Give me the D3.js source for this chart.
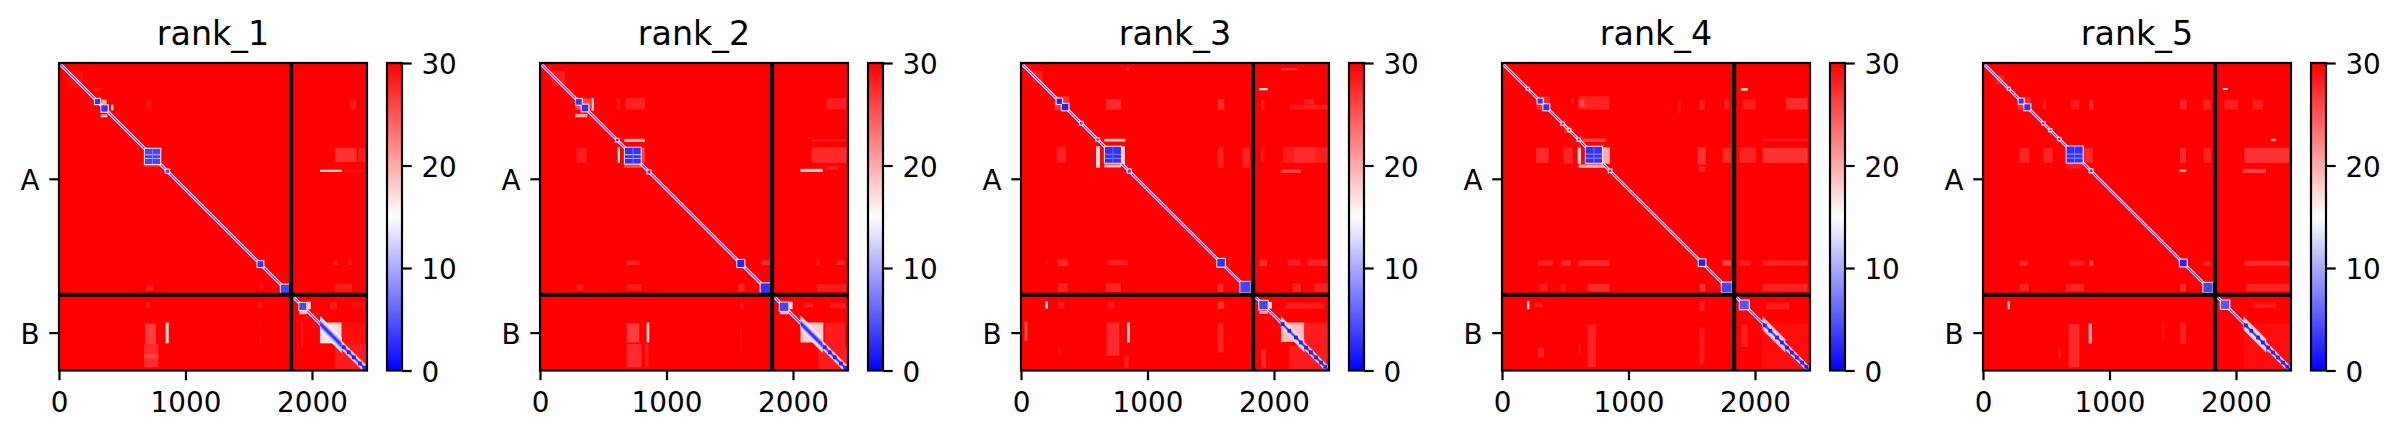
<!DOCTYPE html>
<html><head><meta charset="utf-8">
<script src="https://cdn.jsdelivr.net/npm/d3@7/dist/d3.min.js"></script>
<style>html,body{margin:0;padding:0;background:#fff}svg{display:block}text{font-family:"DejaVu Sans",sans-serif;fill:#000}</style>
</head><body><svg id="c" width="2401" height="438"></svg>
<script>
const rankNames = ["rank_1","rank_2","rank_3","rank_4","rank_5"];
const chainLabels = ["A","B"];
const chainCentres = [917,2135];
const chainBreak = 1835;
const residueCount = 2435;
const xTicks = [0,1000,2000];
const cbarTicks = [0,10,20,30];

// Diagonal domains [start,end,value]
const blocks1 = [[285,325,3],[335,385,3],[680,800,4],[845,870,4],[1570,1615,3],[1755,1830,4],[1900,1955,4]];
const blocks2 = [[285,330,3],[330,382,3],[672,796,3],[601,621,4],[850,874,4],[1560,1615,2],[1745,1825,3],[1897,1963,4]];
const blocks3 = [[282,324,2],[324,374,2],[467,487,4],[597,615,4],[664,790,3],[844,868,4],[1552,1612,3],[1734,1815,4],[1884,1950,4]];
const blocks4 = [[282,321,3],[327,374,3],[196,211,4],[471,489,4],[525,540,5],[597,615,4],[664,790,3],[844,864,4],[1555,1607,2],[1739,1815,4],[1881,1950,5]];
const blocks5 = [[282,321,3],[327,374,3],[196,211,4],[468,486,4],[525,540,5],[594,612,4],[661,788,3],[843,865,4],[1557,1610,2],[1742,1815,4],[1881,1947,5]];

// Beads strung along chain B's tail, no halo [start,end,value]
const beads1 = [[2236,2266,2],[2276,2306,2],[2316,2346,2],[2364,2394,2],[2398,2428,2]];
const beads2 = [[2236,2266,2],[2276,2306,2],[2316,2346,2],[2364,2394,2],[2398,2428,2]];
const beads3 = [[2053,2083,2],[2106,2136,2],[2159,2189,2],[2198,2228,2],[2238,2268,2],[2277,2307,2],[2317,2347,2],[2357,2387,2],[2391,2421,2]];
const beads4 = [[2063,2093,2],[2106,2136,2],[2159,2189,2],[2198,2228,2],[2238,2268,2],[2277,2307,2],[2317,2347,2],[2357,2387,2],[2391,2421,2]];
const beads5 = [[2063,2093,2],[2106,2136,2],[2159,2189,2],[2198,2228,2],[2238,2268,2],[2277,2307,2],[2317,2347,2],[2357,2387,2],[2391,2421,2]];

// Diagonal bands [start,end,half-width,value]
const bands1 = [[0,2435,18,17],[0,2435,7,6],[2065,2235,62,16],[2065,2235,42,12],[2065,2235,26,8],[2065,2235,14,3],[2235,2435,36,18],[2235,2435,12,4]];
const bands2 = [[0,2435,18,17],[0,2435,7,6],[2060,2235,60,17],[2060,2235,36,12],[2060,2235,24,8],[2060,2235,14,3],[2235,2435,36,18],[2235,2435,12,4]];
const bands3 = [[0,2435,17,17],[0,2435,6,5],[2055,2240,50,18],[2055,2240,26,13],[2240,2435,30,18],[2055,2435,12,4]];
const bands4 = [[0,2435,17,17],[0,2435,6,5],[2060,2240,54,19],[2060,2240,26,13],[2240,2435,30,18],[2060,2435,12,4]];
const bands5 = [[0,2435,17,17],[0,2435,6,5],[2060,2240,54,18],[2060,2240,26,13],[2240,2435,30,18],[2060,2435,12,4]];

// Off-diagonal patches [x0,x1,y0,y1,value]
const patches1 = [[75,190,65,200,28],[270,325,200,225,27],[337,377,290,325,20],[411,430,330,375,16],[330,382,408,430,18],[688,733,290,370,28],[2300,2353,290,370,27],[2182,2353,672,783,24],[2366,2419,672,783,27],[2063,2235,845,862,17],[2235,2420,850,860,28],[667,800,800,825,26],[2170,2200,1565,1600,26],[2290,2315,1565,1600,27],[2180,2315,1750,1810,27],[688,745,1755,1805,27],[1590,1607,1755,1805,27],[680,767,2063,2226,23],[843,867,2055,2220,17],[672,785,2226,2410,25],[672,785,2305,2337,22],[680,720,1890,1937,27],[1576,1607,1890,1937,27],[1590,1600,2068,2226,28],[1963,1990,1890,1950,17],[1900,1958,1958,1990,19],[2142,2195,1890,1950,27],[2313,2420,1890,1942,28],[2063,2235,2055,2220,17],[2235,2420,2055,2226,28],[2180,2435,2226,2435,27],[1915,1930,2060,2250,27]];
const patches2 = [[92,198,66,185,27],[277,400,280,370,22],[408,427,277,377,17],[277,374,403,430,20],[611,627,277,369,27],[672,830,277,369,26],[290,369,672,790,27],[614,632,667,790,16],[804,830,667,790,23],[667,830,600,625,19],[667,804,804,830,21],[2147,2424,667,790,25],[2060,2235,838,862,17],[2253,2358,817,843,26],[2147,2424,606,620,27],[2266,2424,277,369,27],[685,790,1562,1600,26],[1752,1818,1562,1600,25],[2345,2411,1562,1600,26],[2187,2213,1562,1600,27],[1568,1615,1747,1810,25],[290,343,1752,1805,27],[685,804,1752,1805,27],[2187,2424,1752,1810,27],[685,785,2063,2213,23],[843,864,2055,2213,17],[685,804,2226,2410,25],[830,856,2226,2410,26],[1580,1607,1897,1950,27],[1580,1600,2095,2305,28],[1970,1997,1890,1950,17],[1897,1963,1963,1990,19],[2060,2240,2055,2213,18],[2253,2411,2055,2250,27],[2200,2435,2250,2435,27],[2082,2160,1897,1937,27],[2292,2411,1897,1942,27]];
const patches3 = [[92,171,66,158,27],[264,382,264,374,24],[672,790,285,369,25],[1555,1607,285,369,25],[1897,1923,290,369,26],[2240,2319,285,330,26],[2121,2424,330,369,27],[2055,2187,40,58,24],[1884,1950,198,216,16],[830,856,40,58,25],[659,825,600,622,18],[593,625,659,830,17],[790,822,659,817,18],[659,790,804,827,18],[282,356,664,790,26],[1555,1600,664,830,26],[1752,1810,672,830,26],[2148,2332,664,790,25],[1897,1923,664,790,27],[2069,2148,664,790,27],[2332,2424,664,790,27],[2055,2213,843,870,22],[290,369,1555,1607,25],[685,843,1560,1602,26],[198,213,1560,1602,27],[1884,1945,1555,1607,25],[2108,2213,1555,1607,27],[2266,2424,1555,1607,26],[290,369,1744,1813,26],[672,790,1744,1813,26],[1555,1600,1744,1813,25],[2148,2213,1744,1813,26],[2319,2424,1744,1813,26],[192,213,1887,1945,17],[1555,1607,1887,1945,24],[290,343,1887,1945,27],[685,738,1887,1945,27],[29,50,2050,2200,21],[838,862,2055,2213,18],[677,777,2055,2319,25],[817,851,2319,2411,26],[1555,1600,2055,2292,26],[298,314,2253,2306,26],[1958,1984,1892,1945,17],[1884,1950,1963,1987,20],[2095,2398,1897,1945,27],[2055,2240,2055,2208,19],[2240,2424,2055,2345,27],[2121,2424,2240,2435,27],[1897,1937,2266,2411,25]];
const patches4 = [[274,380,264,369,25],[606,848,264,369,26],[606,650,290,345,21],[545,571,277,330,27],[1560,1600,290,369,26],[1758,1797,290,369,27],[1390,1410,290,400,27],[1889,1942,198,219,17],[1902,2008,290,369,27],[2245,2416,277,369,25],[493,545,500,553,24],[625,822,598,625,22],[598,625,667,798,18],[796,854,667,798,20],[606,822,804,830,19],[269,369,672,790,25],[485,559,667,798,26],[1547,1613,667,804,24],[1744,1810,672,790,25],[1555,1607,817,862,26],[1876,2008,667,790,26],[2060,2416,672,790,24],[2060,2416,600,620,27],[282,400,1562,1605,26],[466,545,1562,1605,25],[598,848,1562,1605,25],[1744,1810,1562,1605,22],[1876,1970,1562,1605,27],[2060,2416,1562,1605,26],[1560,1607,1750,1810,24],[677,848,1750,1810,25],[466,505,1750,1810,27],[2060,2416,1750,1810,26],[295,360,1750,1810,27],[198,216,1884,1950,16],[255,321,1895,1935,27],[1560,1600,1884,1965,26],[677,743,2068,2410,26],[280,332,2253,2332,26],[605,622,2226,2305,27],[1560,1600,2095,2385,27],[1889,1942,2068,2250,27],[2087,2271,1897,1950,27],[2060,2416,2068,2424,28]];
const patches5 = [[103,169,92,171,27],[274,380,271,369,25],[472,498,290,369,27],[696,762,290,369,27],[840,872,290,369,25],[1557,1610,290,369,26],[1744,1803,290,369,26],[2132,2211,290,369,27],[1908,2013,290,369,27],[1895,1934,198,213,17],[2277,2316,600,619,20],[511,545,519,553,25],[287,366,672,790,26],[477,551,672,790,26],[801,867,672,790,25],[1557,1605,672,790,25],[1744,1803,672,790,26],[2066,2421,672,790,24],[2053,2237,838,870,22],[1554,1607,843,862,20],[661,788,800,835,27],[287,353,1565,1605,25],[683,801,1565,1605,26],[840,872,1565,1605,21],[1744,1803,1565,1605,26],[2066,2421,1565,1605,25],[287,361,1750,1810,26],[656,801,1750,1810,26],[1557,1605,1750,1810,25],[1744,1803,1750,1810,26],[2079,2421,1750,1810,26],[195,213,1884,1950,18],[835,861,2063,2221,20],[677,762,2068,2410,25],[598,614,2266,2332,25],[1420,1431,2055,2200,26],[1557,1605,2055,2226,26],[2132,2316,1897,1940,27],[2060,2424,2068,2424,28]];

// Pale seams running across the large domains [x0,x1,y0,y1,value]
const seams1 = [[680,800,722,730,11],[680,800,753,760,11],[735,742,680,800,8]];
const seams2 = [[672,796,722,730,12],[672,796,752,759,11],[733,739,672,796,8]];
const seams3 = [[664,790,720,726,8],[664,790,752,758,9],[724,730,664,790,7]];
const seams4 = [[664,790,718,724,11],[664,790,750,756,11],[724,730,664,790,8]];
const seams5 = [[661,788,718,724,11],[661,788,750,756,11],[722,728,661,788,8]];

const allBlocks = [blocks1,blocks2,blocks3,blocks4,blocks5];
const allBeads = [beads1,beads2,beads3,beads4,beads5];
const allBands = [bands1,bands2,bands3,bands4,bands5];
const allPatches = [patches1,patches2,patches3,patches4,patches5];
const allSeams = [seams1,seams2,seams3,seams4,seams5];

const W=308, H=307.5, plotTop=63, FS=27.8, LW=2.2, TICK=9.7, PAD=9.7;
const svg = d3.select("#c");
const color = d3.scaleLinear().domain([0,15,30]).range(["#0000ff","#ffffff","#ff0000"]);
// faint patches read pale on screen: pull them toward the background
const patchTone = v => v>=21 ? 30-(30-v)*0.5 : v;
const x = d3.scaleLinear().domain([0,residueCount]).range([0,W]);
const y = d3.scaleLinear().domain([0,residueCount]).range([0,H]);
const cy = d3.scaleLinear().domain([0,30]).range([H,0]);

const defs = svg.append("defs");
defs.append("filter").attr("id","soft").attr("filterUnits","userSpaceOnUse")
  .attr("x",-20).attr("y",-20).attr("width",W+40).attr("height",H+40)
  .append("feGaussianBlur").attr("stdDeviation",0.45);
defs.append("clipPath").attr("id","plot").append("rect").attr("width",W).attr("height",H);
const grad = defs.append("linearGradient").attr("id","bwr").attr("x1",0).attr("x2",0).attr("y1",1).attr("y2",0);
[0,15,30].forEach(v=>grad.append("stop").attr("offset",v/30).attr("stop-color",color(v)));

function styleAxis(a,dy){
  a.selectAll("path.domain").remove();
  a.selectAll("line").attr("stroke","#000").attr("stroke-width",LW);
  a.selectAll("text").attr("font-size",FS).attr("font-family",'"DejaVu Sans"').attr("dy",dy);
}
function rects(g,data,tone){
  g.selectAll(null).data(data).join("rect")
   .attr("x",d=>x(d[0])).attr("y",d=>y(d[2]))
   .attr("width",d=>x(d[1])-x(d[0])).attr("height",d=>y(d[3])-y(d[2]))
   .attr("fill",d=>color(tone(d[4])));
}
function squares(g,data,pad,fill){
  g.selectAll(null).data(data).join("rect")
    .attr("x",d=>x(d[0]-pad)).attr("y",d=>y(d[0]-pad))
    .attr("width",d=>x(d[1]-d[0]+2*pad)).attr("height",d=>y(d[1]-d[0]+2*pad))
    .attr("fill",fill);
}
rankNames.forEach((rank,i)=>{
  const g = svg.append("g").attr("transform",`translate(${59+481*i},${plotTop})`);
  const clip = g.append("g").attr("clip-path","url(#plot)");
  clip.append("rect").attr("width",W).attr("height",H).attr("fill",color(30));
  const f = clip.append("g").attr("filter","url(#soft)");
  rects(f.append("g"),allPatches[i],patchTone);
  f.append("g").selectAll("path").data(allBands[i]).join("path")
    .attr("d",d=>d3.line()([[x(d[0]),y(d[0]-d[2])],[x(d[1]),y(d[1]-d[2])],[x(d[1]),y(d[1]+d[2])],[x(d[0]),y(d[0]+d[2])]])+"Z")
    .attr("fill",d=>color(d[3]));
  squares(f.append("g"),allBlocks[i],9,color(17));
  squares(f.append("g"),allBlocks[i],0,d=>color(d[2]));
  squares(f.append("g"),allBeads[i],0,d=>color(d[2]));
  rects(f.append("g"),allSeams[i],v=>v);

  g.append("line").attr("x1",x(chainBreak)).attr("x2",x(chainBreak)).attr("y1",0).attr("y2",H).attr("stroke","#000").attr("stroke-width",4.2);
  g.append("line").attr("x1",0).attr("x2",W).attr("y1",y(chainBreak)).attr("y2",y(chainBreak)).attr("stroke","#000").attr("stroke-width",4.2);
  g.append("rect").attr("width",W).attr("height",H).attr("fill","none").attr("stroke","#000").attr("stroke-width",LW);

  g.append("g").attr("transform",`translate(0,${H})`)
    .call(d3.axisBottom(x).tickValues(xTicks).tickFormat(d3.format("d")).tickSize(TICK).tickSizeOuter(0).tickPadding(PAD)).call(styleAxis,"0.79em");
  g.append("g")
    .call(d3.axisLeft(y).tickValues(chainCentres).tickFormat((d,j)=>chainLabels[j]).tickSize(TICK).tickSizeOuter(0).tickPadding(PAD)).call(styleAxis,"0.38em");
  g.append("text").attr("x",W/2).attr("y",-18).attr("text-anchor","middle").attr("font-size",33.3).text(rank);

  const cb = g.append("g").attr("transform",`translate(328,0)`);
  cb.append("rect").attr("width",15).attr("height",H).attr("fill","url(#bwr)").attr("stroke","#000").attr("stroke-width",LW);
  cb.append("g").attr("transform","translate(15,0)")
    .call(d3.axisRight(cy).tickValues(cbarTicks).tickFormat(d3.format("d")).tickSize(TICK).tickSizeOuter(0).tickPadding(PAD)).call(styleAxis,"0.38em");
});
</script></body></html>
